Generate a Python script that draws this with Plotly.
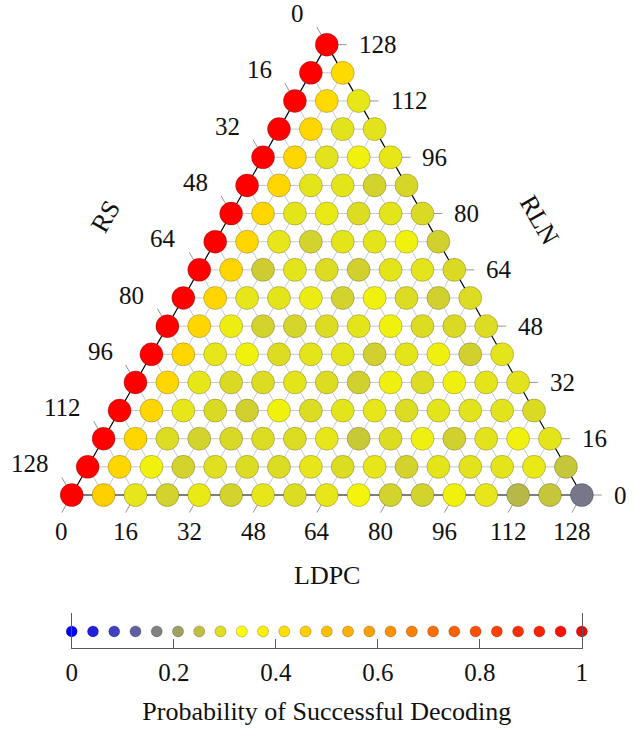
import math
import plotly.graph_objects as go

# Code mix: RLN + LDPC + RS symbols always add up to TOTAL, sampled on a grid of STEP
TOTAL = 128
STEP = 8
rln_levels = list(range(0, TOTAL + 1, STEP))

# Probability of successful decoding.
# Row i holds RLN = rln_levels[i]; entry j holds LDPC = j * STEP (RS takes the rest).
success_prob = [
    [1.00, 0.46, 0.300, 0.275, 0.305, 0.275, 0.300, 0.288, 0.300, 0.318, 0.275, 0.275, 0.315, 0.300, 0.240, 0.258, 0.155],
    [1.00, 0.44, 0.315, 0.275, 0.292, 0.288, 0.288, 0.300, 0.288, 0.300, 0.275, 0.298, 0.295, 0.298, 0.305, 0.258],
    [1.00, 0.44, 0.288, 0.275, 0.282, 0.288, 0.288, 0.300, 0.262, 0.288, 0.312, 0.272, 0.295, 0.315, 0.298],
    [1.00, 0.44, 0.300, 0.285, 0.272, 0.315, 0.288, 0.298, 0.300, 0.288, 0.298, 0.295, 0.295, 0.285],
    [1.00, 0.44, 0.302, 0.285, 0.288, 0.298, 0.288, 0.272, 0.312, 0.288, 0.312, 0.298, 0.296],
    [1.00, 0.44, 0.300, 0.315, 0.288, 0.298, 0.298, 0.272, 0.298, 0.312, 0.272, 0.298],
    [1.00, 0.44, 0.310, 0.275, 0.278, 0.288, 0.298, 0.315, 0.288, 0.285, 0.288],
    [1.00, 0.44, 0.300, 0.298, 0.308, 0.275, 0.315, 0.288, 0.272, 0.288],
    [1.00, 0.44, 0.268, 0.298, 0.288, 0.272, 0.298, 0.298, 0.285],
    [1.00, 0.44, 0.300, 0.275, 0.298, 0.298, 0.315, 0.272],
    [1.00, 0.44, 0.298, 0.305, 0.288, 0.298, 0.285],
    [1.00, 0.44, 0.298, 0.298, 0.275, 0.280],
    [1.00, 0.44, 0.295, 0.315, 0.302],
    [1.00, 0.44, 0.296, 0.296],
    [1.00, 0.43, 0.302],
    [1.00, 0.43],
    [1.00],
]

axis_ticks = [0, 16, 32, 48, 64, 80, 96, 112, 128]
cbar_ticks = [0, 0.2, 0.4, 0.6, 0.8, 1.0]
cbar_tick_text = ["0", "0.2", "0.4", "0.6", "0.8", "1"]
cbar_samples = [i / 24 for i in range(25)]

colorscale = [
    [0.0, "rgb(0,0,255)"],
    [1 / 6, "rgb(128,128,128)"],
    [1 / 3, "rgb(255,255,0)"],
    [2 / 3, "rgb(255,128,0)"],
    [1.0, "rgb(255,0,0)"],
]

FONT = "Liberation Serif"
FS = 25
FS_TITLE = 26
SQ = math.sqrt(3) / 2
PX = 4.0625          # pixels per data unit (equal on both axes)
ORIGIN = (67, 495)   # pixel position of the LDPC=0 / RLN=0 corner
W, H = 632, 730


def to_xy(ldpc, rln):
    """Ternary (LDPC, RLN) -> cartesian, LDPC along the base, RLN upward."""
    return ldpc + rln / 2.0, rln * SQ


# --- scatter points ---------------------------------------------------------
xs, ys, cs, hov = [], [], [], []
for i, row in enumerate(success_prob):
    rln = rln_levels[i]
    for j, p in enumerate(row):
        ldpc = j * STEP
        rs = TOTAL - rln - ldpc
        x, y = to_xy(ldpc, rln)
        xs.append(x)
        ys.append(y)
        cs.append(p)
        hov.append(f"LDPC {ldpc}<br>RLN {rln}<br>RS {rs}<br>P {p:.3f}")

# --- grid lines (all three families) -----------------------------------------
gx, gy = [], []
for v in range(STEP, TOTAL, STEP):
    for (a, b) in (
        ((0, v), (TOTAL - v, v)),          # constant RLN
        ((v, 0), (v, TOTAL - v)),          # constant LDPC
        ((TOTAL - v, 0), (0, TOTAL - v)),  # constant RS
    ):
        x0, y0 = to_xy(*a)
        x1, y1 = to_xy(*b)
        gx += [x0, x1, None]
        gy += [y0, y1, None]

# --- outward tick marks ------------------------------------------------------
TL = 5.0
tx, ty = [], []
ann = []
lab_font = dict(family=FONT, size=FS, color="#111")
for v in axis_ticks:
    # LDPC on the base, ticks run down-left
    x0, y0 = to_xy(v, 0)
    x1, y1 = x0 - TL * 0.5, y0 - TL * SQ
    tx += [x0, x1, None]
    ty += [y0, y1, None]
    ann.append(dict(x=x1, y=y1, text=str(v), showarrow=False, xanchor="center",
                    yanchor="top", yshift=-3, font=lab_font))
    # RLN on the right edge, ticks run horizontally
    x0, y0 = to_xy(TOTAL - v, v)
    x1, y1 = x0 + TL, y0
    tx += [x0, x1, None]
    ty += [y0, y1, None]
    ann.append(dict(x=x1, y=y1, text=str(v), showarrow=False, xanchor="left",
                    yanchor="middle", xshift=10, font=lab_font))
    # RS on the left edge, ticks run up-left
    x0, y0 = to_xy(0, TOTAL - v)
    x1, y1 = x0 - TL * 0.5, y0 + TL * SQ
    tx += [x0, x1, None]
    ty += [y0, y1, None]
    ann.append(dict(x=x1, y=y1, text=str(v), showarrow=False, xanchor="right",
                    yanchor="bottom", xshift=-11, yshift=-2, font=lab_font))

# --- triangle edges ----------------------------------------------------------
A = to_xy(0, 0)
B = to_xy(TOTAL, 0)
C = to_xy(0, TOTAL)

fig = go.Figure()
fig.add_trace(go.Scatter(x=gx, y=gy, mode="lines", hoverinfo="skip",
                         line=dict(color="rgb(200,200,200)", width=1)))
fig.add_trace(go.Scatter(x=tx, y=ty, mode="lines", hoverinfo="skip",
                         line=dict(color="rgb(150,150,150)", width=1)))
fig.add_trace(go.Scatter(x=[A[0], B[0]], y=[A[1], B[1]], mode="lines", hoverinfo="skip",
                         line=dict(color="rgb(85,85,85)", width=1.5)))
fig.add_trace(go.Scatter(x=[A[0], C[0], B[0]], y=[A[1], C[1], B[1]], mode="lines",
                         hoverinfo="skip", line=dict(color="black", width=1.2)))
fig.add_trace(go.Scatter(
    x=xs, y=ys, mode="markers", text=hov, hoverinfo="text",
    marker=dict(size=23, color=cs, colorscale=colorscale, cmin=0, cmax=1,
                line=dict(color="rgba(0,0,0,0.22)", width=1)),
))

# --- sampled colour bar --------------------------------------------------------
fig.add_trace(go.Scatter(
    x=cbar_samples, y=[0] * len(cbar_samples), mode="markers", xaxis="x2", yaxis="y2",
    hoverinfo="skip", cliponaxis=False,
    marker=dict(size=11, color=cbar_samples, colorscale=colorscale, cmin=0, cmax=1,
                line=dict(color="rgba(0,0,0,0.22)", width=1)),
))

# axis titles
title_font = dict(family=FONT, size=FS_TITLE, color="#111")
ann.append(dict(x=64, y=-19.7, text="LDPC", showarrow=False, font=title_font))
ann.append(dict(x=8.54, y=68.5, text="RS", showarrow=False, textangle=-60, font=title_font))
ann.append(dict(x=117.2, y=67.7, text="RLN", showarrow=False, textangle=60, font=title_font))
for a in ann:
    a.setdefault("xref", "x")
    a.setdefault("yref", "y")

fig.update_layout(
    width=W, height=H,
    margin=dict(l=0, r=0, t=0, b=0),
    paper_bgcolor="white", plot_bgcolor="rgba(0,0,0,0)",
    showlegend=False,
    annotations=ann,
    font=dict(family=FONT, size=FS, color="#111"),
    xaxis=dict(domain=[0, 1], range=[-ORIGIN[0] / PX, (W - ORIGIN[0]) / PX],
               visible=False, fixedrange=True),
    yaxis=dict(domain=[0, 1], range=[-(H - ORIGIN[1]) / PX, ORIGIN[1] / PX],
               visible=False, fixedrange=True),
    xaxis2=dict(domain=[67 / W, 587 / W], range=[0, 1], anchor="y2",
                showline=True, linecolor="rgb(90,90,90)", linewidth=1.2,
                ticks="inside", ticklen=9, tickcolor="rgb(90,90,90)",
                tickvals=cbar_ticks, ticktext=cbar_tick_text,
                tickfont=dict(family=FONT, size=FS, color="#111"),
                ticklabelstandoff=2,
                showgrid=False, zeroline=False,
                title=dict(text="Probability of Successful Decoding",
                           font=dict(family=FONT, size=FS_TITLE, color="#111"), standoff=16)),
    yaxis2=dict(domain=[(H - 648) / H, (H - 613) / H], range=[-0.9, 1.0], anchor="x2",
                showline=True, mirror=True, linecolor="rgb(90,90,90)", linewidth=1.2,
                ticks="", showticklabels=False, showgrid=False, zeroline=False),
)

fig.write_html("out.html")
